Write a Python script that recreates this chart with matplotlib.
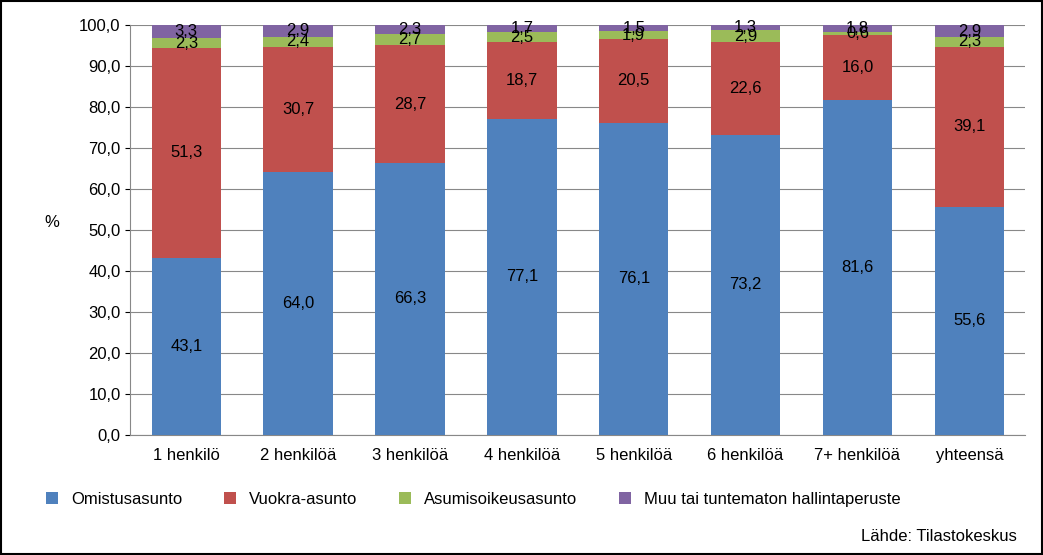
import matplotlib
matplotlib.use("Agg")
import matplotlib.pyplot as plt
import numpy as np

categories = ["1 henkilö", "2 henkilöä", "3 henkilöä", "4 henkilöä", "5 henkilöä", "6 henkilöä", "7+ henkilöä", "yhteensä"]
omistus = [43.1, 64.0, 66.3, 77.1, 76.1, 73.2, 81.6, 55.6]
vuokra = [51.3, 30.7, 28.7, 18.7, 20.5, 22.6, 16.0, 39.1]
asumis = [2.3, 2.4, 2.7, 2.5, 1.9, 2.9, 0.6, 2.3]
muu = [3.3, 2.9, 2.3, 1.7, 1.5, 1.3, 1.8, 2.9]
series = [("Omistusasunto", omistus, "#4F81BD"), ("Vuokra-asunto", vuokra, "#C0504D"),
          ("Asumisoikeusasunto", asumis, "#9BBB59"), ("Muu tai tuntematon hallintaperuste", muu, "#8064A2")]

plt.rcParams["font.family"] = "Liberation Sans"
fig = plt.figure(figsize=(10.43, 5.55), dpi=100)
ax = fig.add_axes([0.125, 0.217, 0.858, 0.738])
x = np.arange(len(categories))
bottom = np.zeros(len(categories))
for name, vals, col in series:
    v = np.array(vals)
    ax.bar(x, v, 0.62, bottom=bottom, color=col, label=name, zorder=3)
    for xi, b, val in zip(x, bottom, v):
        ax.text(xi, b + val / 2, f"{val:.1f}".replace(".", ","), ha="center", va="center", fontsize=12, zorder=4)
    bottom += v
ax.set_ylim(0, 100)
ax.set_xlim(-0.5, len(categories) - 0.5)
ax.set_yticks(np.arange(0, 101, 10))
ax.set_yticklabels([f"{t:.1f}".replace(".", ",") for t in np.arange(0, 101, 10)], fontsize=12)
ax.set_xticks(x)
ax.set_xticklabels(categories, fontsize=12)
ax.tick_params(axis="x", length=0, pad=10)
ax.grid(axis="y", color="#888888", lw=0.8, zorder=0)
for s in ["top", "right"]:
    ax.spines[s].set_visible(False)
ax.spines["left"].set_color("#888888")
ax.spines["bottom"].set_color("#888888")
ax.set_ylabel("%", rotation=0, fontsize=12, labelpad=20)
fig.legend(loc="lower left", bbox_to_anchor=(0.03, 0.06), ncol=4, frameon=False, fontsize=12,
           handlelength=0.7, handleheight=0.7, columnspacing=2.5)
fig.text(0.975, 0.02, "Lähde: Tilastokeskus", ha="right", va="bottom", fontsize=12)
fig.patches.append(plt.Rectangle((0.001, 0.001), 0.998, 0.998, transform=fig.transFigure, fill=False, ec="black", lw=1.5))
fig.savefig("out.png", dpi=100)
